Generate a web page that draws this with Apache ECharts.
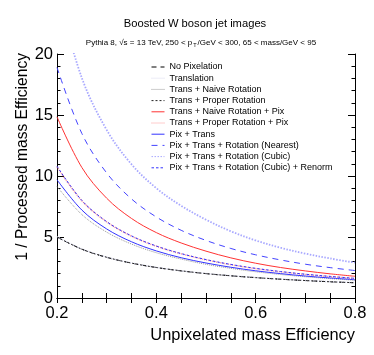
<!DOCTYPE html>
<html lang="en">
<head>
    <meta charset="UTF-8">
    <title>Boosted W boson jet images</title>
    <script src="https://cdn.jsdelivr.net/npm/echarts@6/dist/echarts.min.js"></script>
    <style>
        html, body { margin: 0; padding: 0; background: #fff; }
        #chart { width: 374px; height: 355px; }
    </style>
</head>
<body>
<div id="chart"></div>
<script>
    // x positions (unpixelated mass efficiency)
    var effX = [0.2, 0.25, 0.3, 0.35, 0.4, 0.45, 0.5, 0.55, 0.6, 0.65, 0.7, 0.75, 0.8];

    // 1 / processed mass efficiency, one list per curve
    var noPixelation   = [5.00, 4.00, 3.33, 2.86, 2.50, 2.22, 2.00, 1.82, 1.67, 1.54, 1.43, 1.33, 1.25];
    var translation    = [5.02, 4.02, 3.35, 2.87, 2.51, 2.23, 2.01, 1.83, 1.68, 1.55, 1.44, 1.34, 1.26];
    var transNaive     = [9.14, 6.84, 5.40, 4.42, 3.71, 3.19, 2.76, 2.43, 2.15, 1.93, 1.74, 1.59, 1.45];
    var transProper    = [5.00, 4.00, 3.34, 2.86, 2.50, 2.23, 2.00, 1.82, 1.67, 1.54, 1.43, 1.33, 1.25];
    var transNaivePix  = [14.85, 10.70, 8.18, 6.52, 5.36, 4.51, 3.84, 3.29, 2.85, 2.50, 2.22, 1.98, 1.78];
    var transProperPix = [10.75, 7.97, 6.24, 5.07, 4.24, 3.62, 3.13, 2.73, 2.41, 2.15, 1.93, 1.75, 1.59];
    var pixTrans       = [9.69, 7.21, 5.66, 4.61, 3.86, 3.30, 2.87, 2.52, 2.23, 2.00, 1.80, 1.64, 1.50];
    var pixNearest     = [18.9, 13.49, 10.25, 8.12, 6.64, 5.55, 4.72, 4.06, 3.54, 3.12, 2.77, 2.49, 2.25];
    var pixCubic       = [25.1, 18.04, 13.78, 10.96, 9.00, 7.56, 6.42, 5.47, 4.72, 4.12, 3.64, 3.24, 2.90];
    var pixCubicRenorm = [10.80, 8.00, 6.26, 5.09, 4.26, 3.64, 3.15, 2.75, 2.43, 2.17, 1.95, 1.77, 1.61];

    var yTicks = [0, 5, 10, 15, 20];
    var xTickLabels = ['0.2', '0.4', '0.6', '0.8'];

    var FONT = 'Liberation Sans';

    function pairs(ys) {
        var out = [];
        for (var i = 0; i < effX.length; i++) {
            out.push([effX[i], ys[i]]);
        }
        return out;
    }

    function curve(name, ys, color, type, width) {
        return {
            name: name,
            type: 'line',
            data: pairs(ys),
            smooth: 0.35,
            symbol: 'none',
            clip: true,
            lineStyle: { color: color, width: width || 1, type: type },
            itemStyle: { color: color }
        };
    }

    var series = [
        curve('No Pixelation', noPixelation, '#000000', [5, 4], 1),
        curve('Translation', translation, '#d8d8ee', [1, 1], 1.5),
        curve('Trans + Naive Rotation', transNaive, '#999999', [1, 1], 1),
        curve('Trans + Proper Rotation', transProper, '#222222', [2, 2], 1),
        curve('Trans + Naive Rotation + Pix', transNaivePix, '#ff3333', 'solid', 1),
        curve('Trans + Proper Rotation + Pix', transProperPix, '#ff9999', [1, 1], 1.5),
        curve('Pix + Trans', pixTrans, '#3333ff', 'solid', 1),
        curve('Pix + Trans + Rotation (Nearest)', pixNearest, '#4444ff', [6, 5], 1),
        curve('Pix + Trans + Rotation (Cubic)', pixCubic, '#a8a8ff', [1.5, 1.5], 1.8),
        curve('Pix + Trans + Rotation (Cubic) + Renorm', pixCubicRenorm, '#3333ff', [2.5, 2], 1)
    ];

    var chart = echarts.init(document.getElementById('chart'), null, { renderer: 'canvas' });

    var axisLineStyle = { lineStyle: { color: '#000', width: 1 } };

    var option = {
        backgroundColor: '#ffffff',
        animation: false,
        textStyle: { fontFamily: FONT },
        grid: { left: 57, right: 19, top: 54, bottom: 57 },
        legend: {
            orient: 'vertical',
            left: 151,
            top: 62,
            itemWidth: 13,
            itemHeight: 10,
            itemGap: 1.2,
            padding: 0,
            itemStyle: { opacity: 0, borderWidth: 0 },
            lineStyle: { width: 1 },
            textStyle: { fontFamily: FONT, fontSize: 9, color: '#000', lineHeight: 10 },
            data: series.map(function (s) { return s.name; })
        },
        xAxis: [{
            type: 'value',
            min: 0.2,
            max: 0.8,
            interval: 0.05,
            axisLine: axisLineStyle,
            axisTick: { inside: true, length: 5, lineStyle: { color: '#000' } },
            splitLine: { show: false },
            axisLabel: {
                margin: 7,
                fontSize: 16.5,
                color: '#000',
                fontFamily: FONT,
                formatter: function (v) {
                    var r = Math.round(v * 100);
                    if (r % 20 !== 0) return '';
                    var idx = (r - 20) / 20;
                    return xTickLabels[idx] || '';
                }
            }
        }, {
            type: 'value',
            position: 'top',
            min: 0.2,
            max: 0.8,
            interval: 0.05,
            axisLine: axisLineStyle,
            axisTick: { inside: true, length: 5, lineStyle: { color: '#000' } },
            splitLine: { show: false },
            axisLabel: { show: false }
        }],
        yAxis: [{
            type: 'value',
            min: yTicks[0],
            max: yTicks[yTicks.length - 1],
            interval: 5,
            axisLine: axisLineStyle,
            axisTick: { inside: true, length: 7, lineStyle: { color: '#000' } },
            minorTick: { show: true, splitNumber: 5, length: 3.5, lineStyle: { color: '#000' } },
            splitLine: { show: false },
            axisLabel: { margin: 4, fontSize: 16.5, color: '#000', fontFamily: FONT }
        }, {
            type: 'value',
            position: 'right',
            min: yTicks[0],
            max: yTicks[yTicks.length - 1],
            interval: 5,
            axisLine: axisLineStyle,
            axisTick: { inside: true, length: 7, lineStyle: { color: '#000' } },
            minorTick: { show: true, splitNumber: 5, length: 3.5, lineStyle: { color: '#000' } },
            splitLine: { show: false },
            axisLabel: { show: false }
        }],
        graphic: [{
            type: 'text',
            x: 195,
            y: 24,
            style: {
                text: 'Boosted W boson jet images',
                fontFamily: FONT,
                fontSize: 11.2,
                fill: '#000',
                textAlign: 'center',
                textVerticalAlign: 'middle'
            }
        }, {
            type: 'text',
            x: 201,
            y: 43,
            style: {
                text: 'Pythia 8, √s = 13 TeV, 250 < p{sub|T}/GeV < 300, 65 < mass/GeV < 95',
                fontFamily: FONT,
                fontSize: 8,
                fill: '#000',
                textAlign: 'center',
                textVerticalAlign: 'middle',
                rich: {
                    sub: { fontSize: 5.5, fontFamily: FONT, fill: '#000', padding: [5, 1, 0, 1] }
                }
            }
        }, {
            type: 'text',
            x: 355,
            y: 335,
            style: {
                text: 'Unpixelated mass Efficiency',
                fontFamily: FONT,
                fontSize: 16.4,
                fill: '#000',
                textAlign: 'right',
                textVerticalAlign: 'middle'
            }
        }, {
            type: 'text',
            x: 23,
            y: 53,
            rotation: Math.PI / 2,
            style: {
                text: '1 / Processed mass Efficiency',
                fontFamily: FONT,
                fontSize: 15.6,
                fill: '#000',
                textAlign: 'right',
                textVerticalAlign: 'middle'
            }
        }],
        series: series
    };

    chart.setOption(option);
</script>
</body>
</html>
